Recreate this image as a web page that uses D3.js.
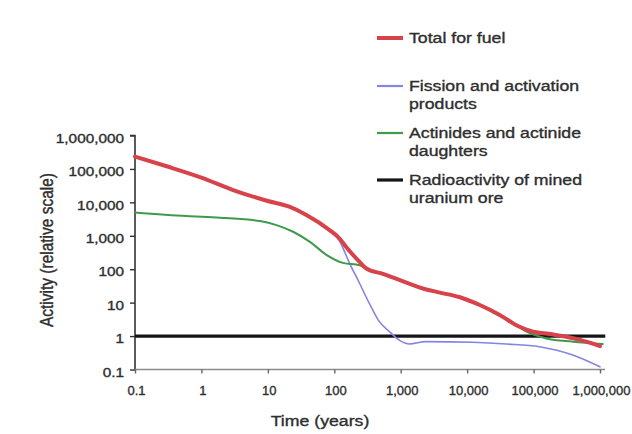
<!DOCTYPE html>
<html>
<head>
<meta charset="utf-8">
<script src="https://cdn.jsdelivr.net/npm/d3@7"></script>
<style>
  html, body { margin: 0; padding: 0; background: #ffffff; }
  svg { display: block; }
  text { font-family: "Liberation Sans", Arial, sans-serif; stroke: #2e2e2e; stroke-width: 0.35px; }
</style>
</head>
<body>
<svg id="chart" width="632" height="434"></svg>
<script>
// ---- data (time in years, activity on relative scale) ----
const tickValues = [0.1, 1, 10, 100, 1000, 10000, 100000, 1000000];
const tickLabels = ["0.1", "1", "10", "100", "1,000", "10,000", "100,000", "1,000,000"];

const totalFuel = [
  [0.1, 234000], [0.3, 120000], [1, 55000], [3, 23400], [10, 11000], [21, 7400],
  [38, 4200], [85, 1480], [120, 830], [150, 470], [240, 166], [300, 107],
  [540, 72], [950, 48], [2100, 27], [3900, 20], [7800, 14.5], [15500, 8.5],
  [31000, 4.3], [55000, 2.1], [98000, 1.35], [155000, 1.2], [310000, 0.95],
  [620000, 0.68], [1000000, 0.5]
];

const fissionProducts = [
  [0.1, 234000], [0.3, 120000], [1, 55000], [3, 23400], [10, 11000], [21, 7400],
  [38, 4200], [85, 1480], [120, 700], [170, 150], [240, 38], [300, 15],
  [380, 6], [460, 3.0], [680, 1.35], [950, 0.76], [1350, 0.58], [2400, 0.68],
  [12000, 0.65], [39000, 0.58], [123000, 0.48], [390000, 0.27], [1000000, 0.12]
];

const actinides = [
  [0.1, 5000], [0.6, 3900], [1.9, 3470], [7.6, 2750], [13.5, 2090], [24, 1320],
  [43, 660], [76, 270], [135, 155], [240, 132], [300, 105], [540, 71],
  [950, 47], [2100, 26], [3900, 19.5], [7800, 14], [15500, 8.3], [31000, 4.0],
  [39000, 3.4], [78000, 1.35], [155000, 0.85], [390000, 0.68], [1100000, 0.58]
];

const uraniumOre = [[0.1, 1], [1200000, 1]];

const legendItems = [
  { lines: ["Total for fuel"], color: "#d8424a", width: 4 },
  { lines: ["Fission and activation", "products"], color: "#8484e2", width: 1.6 },
  { lines: ["Actinides and actinide", "daughters"], color: "#3f9a4c", width: 2 },
  { lines: ["Radioactivity of mined", "uranium ore"], color: "#151515", width: 3.2 }
];

// ---- chart ----
const svg = d3.select("#chart");
const SX = 1.18; // horizontal stretch of the text in the original

svg.append("rect").attr("width", 632).attr("height", 434).attr("fill", "#ffffff");

const x = d3.scaleLog().domain([0.1, 1000000]).range([135, 600]);
const y = d3.scaleLog().domain([0.1, 1000000]).range([369.5, 135.5]);

// y axis
const yAxis = d3.axisLeft(y).tickValues(tickValues)
  .tickFormat((d, i) => tickLabels[i]).tickSize(5).tickPadding(0);
const gy = svg.append("g").attr("transform", "translate(135,0)").call(yAxis);
gy.select(".domain").attr("stroke", "#333").attr("stroke-width", 1.6)
  .attr("d", `M-5,${y(1000000)}H0V${y(0.1)}`);
gy.selectAll(".tick line").attr("stroke", "#333").attr("stroke-width", 1.4);
gy.selectAll(".tick text")
  .attr("x", 0).attr("dy", "0.36em")
  .attr("transform", `translate(-11,2) scale(${SX},1)`)
  .attr("font-size", 13).attr("fill", "#2e2e2e");

// x axis
const xAxis = d3.axisBottom(x).tickValues(tickValues)
  .tickFormat((d, i) => tickLabels[i]).tickSize(4).tickPadding(0);
const gx = svg.append("g").attr("transform", `translate(0,${y(0.1)})`).call(xAxis);
gx.select(".domain").attr("stroke", "#8a8a8a").attr("stroke-width", 1.6)
  .attr("d", `M${x(0.1)},0H605`);
gx.selectAll(".tick line").attr("stroke", "#666").attr("stroke-width", 1.4);
gx.selectAll(".tick text")
  .attr("y", 0).attr("dy", 0)
  .attr("transform", "translate(1,25)")
  .attr("font-size", 13).attr("fill", "#2e2e2e");

// axis titles
svg.append("text")
  .attr("transform", `translate(320,426) scale(${SX},1)`)
  .attr("text-anchor", "middle").attr("font-size", 15).attr("fill", "#2e2e2e")
  .text("Time (years)");
svg.append("text")
  .attr("transform", `translate(53,250) rotate(-90) scale(1,${SX})`)
  .attr("text-anchor", "middle").attr("font-size", 15.5).attr("fill", "#2e2e2e")
  .text("Activity (relative scale)");

// lines
const line = d3.line().x(d => x(d[0])).y(d => y(d[1])).curve(d3.curveMonotoneX);
const plot = svg.append("g").attr("fill", "none").attr("stroke-linecap", "round").attr("stroke-linejoin", "round");

plot.append("path").datum(uraniumOre).attr("d", line)
  .attr("stroke", legendItems[3].color).attr("stroke-width", legendItems[3].width).attr("stroke-linecap", "butt");
plot.append("path").datum(fissionProducts).attr("d", line)
  .attr("stroke", legendItems[1].color).attr("stroke-width", legendItems[1].width);
plot.append("path").datum(actinides).attr("d", line)
  .attr("stroke", legendItems[2].color).attr("stroke-width", legendItems[2].width);
plot.append("path").datum(totalFuel).attr("d", line)
  .attr("stroke", legendItems[0].color).attr("stroke-width", legendItems[0].width);

// legend
const legendY = [38, 86, 133, 180];
const legend = svg.append("g");
legendItems.forEach((item, i) => {
  const ly = legendY[i];
  legend.append("line")
    .attr("x1", 377).attr("x2", 403).attr("y1", ly).attr("y2", ly)
    .attr("stroke", item.color).attr("stroke-width", Math.max(item.width, 2.2));
  item.lines.forEach((t, j) => {
    legend.append("text")
      .attr("transform", `translate(409,${ly + 5 + j * 18}) scale(${SX},1)`)
      .attr("font-size", 15).attr("fill", "#2e2e2e")
      .text(t);
  });
});
</script>
</body>
</html>
